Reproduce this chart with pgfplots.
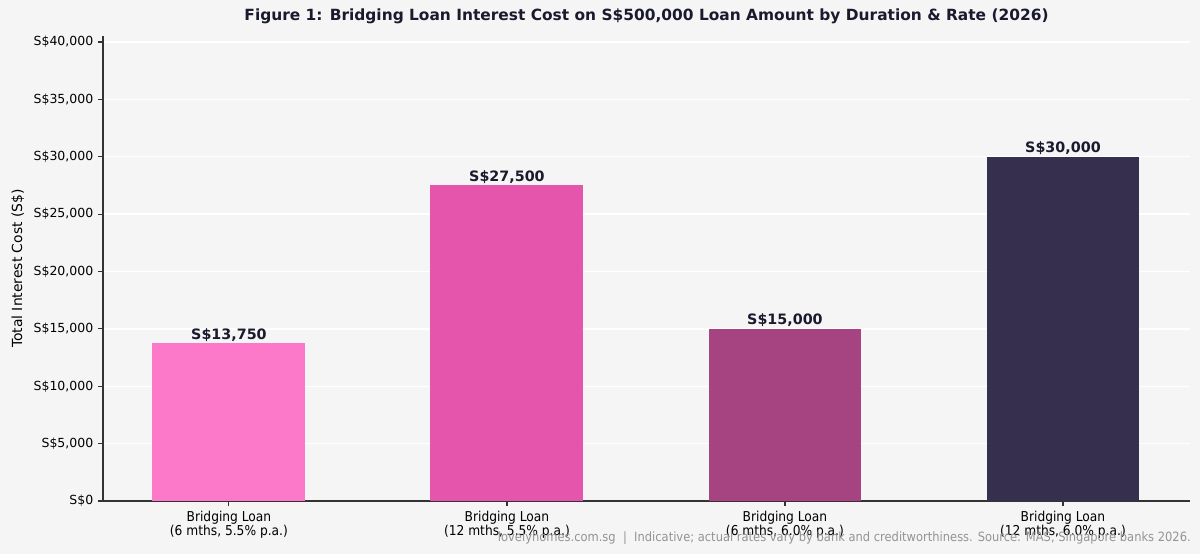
\documentclass[border=0pt]{standalone}
\usepackage{pgfplots}
\pgfplotsset{compat=1.18}
\usepackage{fontspec}
\setmainfont{DejaVu Sans}
\newfontfamily\condfont{DejaVu Sans Condensed}
\definecolor{bgc}{HTML}{F5F5F5}
\definecolor{cA}{HTML}{FC78C8}
\definecolor{cB}{HTML}{E655AC}
\definecolor{cC}{HTML}{A64482}
\definecolor{cD}{HTML}{36304E}
\definecolor{navy}{HTML}{1A1A2E}
\definecolor{spine}{HTML}{333333}
\begin{document}
\begin{tikzpicture}
\fill[bgc] (-74.16bp,-38.16bp) rectangle (789.84bp,360.72bp);
\begin{axis}[
  scale only axis,
  width=782.64bp, height=334.6bp,
  xmin=-0.453, xmax=3.457,
  ymin=0, ymax=40500,
  scaled y ticks=false,
  axis x line*=bottom, axis y line*=left,
  axis line style={-, draw=spine, line width=0.8bp},
  xtick={0,1,2,3},
  xticklabels={{Bridging Loan\\(6 mths, 5.5\% p.a.)},{Bridging Loan\\(12 mths, 5.5\% p.a.)},{Bridging Loan\\(6 mths, 6.0\% p.a.)},{Bridging Loan\\(12 mths, 6.0\% p.a.)}},
  xticklabel style={align=center, font=\condfont\fontsize{9.8bp}{10.3bp}\selectfont, text=black},
  ytick={0,5000,10000,15000,20000,25000,30000,35000,40000},
  yticklabels={S\$0,{S\$5,000},{S\$10,000},{S\$15,000},{S\$20,000},{S\$25,000},{S\$30,000},{S\$35,000},{S\$40,000}},
  yticklabel style={font=\fontsize{9bp}{10bp}\selectfont, text=black},
  tick style={draw=spine, line width=0.8bp},
  major tick length=3.5bp,
  tick align=outside,
  ymajorgrids,
  grid style={draw=white, line width=1bp},
  ylabel={Total Interest Cost (S\$)},
  ylabel style={font=\fontsize{10bp}{12bp}\selectfont, text=black},
  title={Figure 1: Bridging Loan Interest Cost on S\$500,000 Loan Amount by Duration \& Rate (2026)},
  title style={font=\bfseries\fontsize{11.1bp}{13bp}\selectfont, text=navy, at={(0.5,1)}, anchor=center, inner sep=0pt, yshift=8.6bp},
  nodes near coords style={font=\bfseries\fontsize{10.3bp}{12bp}\selectfont, text=navy, anchor=south, yshift=-2bp},
  clip=false,
]
\addplot[ybar, bar width=0.55, fill=cA, draw=none, nodes near coords={S\$13,750}] coordinates {(0,13750)};
\addplot[ybar, bar width=0.55, fill=cB, draw=none, nodes near coords={S\$27,500}] coordinates {(1,27500)};
\addplot[ybar, bar width=0.55, fill=cC, draw=none, nodes near coords={S\$15,000}] coordinates {(2,15000)};
\addplot[ybar, bar width=0.55, fill=cD, draw=none, nodes near coords={S\$30,000}] coordinates {(3,30000)};
\end{axis}
\node[anchor=east, inner sep=0pt, text=black!42, font=\condfont\fontsize{9.2bp}{10bp}\selectfont] at (783.4bp,-26.6bp) {lovelyhomes.com.sg \ | \ Indicative; actual rates vary by bank and creditworthiness. Source: MAS, Singapore banks 2026.};
\end{tikzpicture}
\end{document}
